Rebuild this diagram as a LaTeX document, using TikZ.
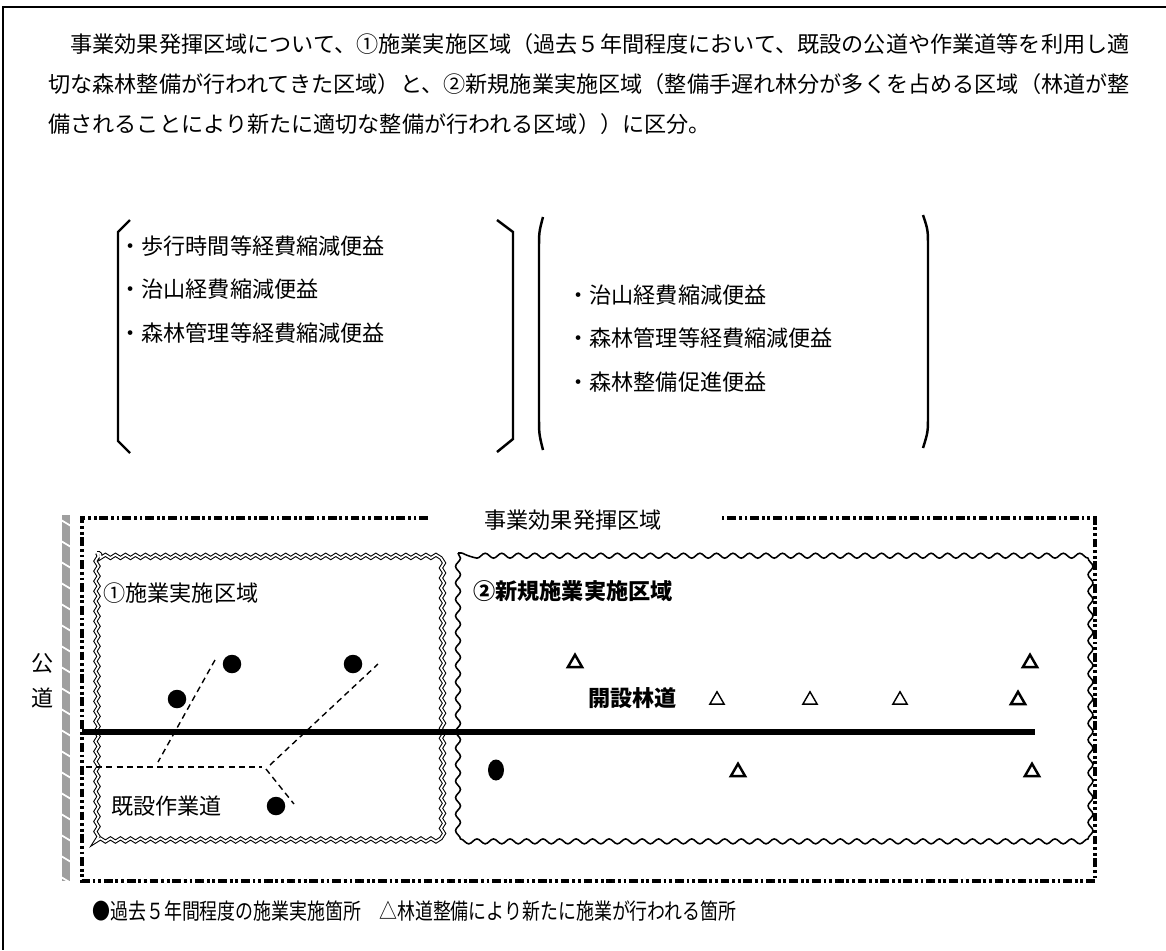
\documentclass[tikz,border=0pt]{standalone}
\usepackage{fontspec}
\newfontfamily\jpfont{Noto Sans CJK JP}
\usetikzlibrary{positioning, decorations.pathmorphing, shapes.geometric}

\begin{document}
\begin{tikzpicture}[
  x=0.02cm, y=-0.02cm,
  node distance=0.5cm,
  txt/.style={inner sep=0pt, anchor=west, text height=0.88em, text depth=0.12em,
              font=\jpfont\fontsize{12.6}{15}\selectfont},
  boldtxt/.style={txt, font=\jpfont\bfseries\fontsize{12.6}{15}\selectfont},
  brk/.style={line width=1.4pt},
  zone/.style={line width=2.1pt,
               dash pattern=on 5pt off 1.6pt on 1.6pt off 1.6pt on 1.6pt off 1.6pt},
  zoneA/.style={decorate, decoration={snake, amplitude=0.9pt, segment length=5.7pt},
                double, double distance=1pt, line width=0.6pt},
  zoneB/.style={decorate, decoration={snake, amplitude=1.4pt, segment length=9.4pt},
                line width=0.9pt},
  workroad/.style={dash pattern=on 3.4pt off 2.4pt, line width=0.8pt},
  spot/.style={circle, fill, inner sep=0pt, minimum size=0.37cm},
  tri/.style={regular polygon, regular polygon sides=3, draw, inner sep=0pt,
              minimum size=0.33cm, line width=1.4pt},
  trilight/.style={tri, line width=0.8pt}
]
  \useasboundingbox (0,0) rectangle (1166,950);
  \draw[line width=1.2pt] (1166,7) -| (3,950);

  \node[txt] (p1) at (48,46) {　事業効果発揮区域について、①施業実施区域（過去５年間程度において、既設の公道や作業道等を利用し適};
  \node[txt] (p2) at (48,86) {切な森林整備が行われてきた区域）と、②新規施業実施区域（整備手遅れ林分が多くを占める区域（林道が整};
  \node[txt] (p3) at (48,126) {備されることにより新たに適切な整備が行われる区域））に区分。};

  \draw[brk] (130,220) -- (118,232) -- (118,441) -- (130,453);
  \draw[brk] (497,220) -- (513,232) -- (513,439) -- (497,452);
  \draw[brk] (543,217) .. controls (539,232) .. (539,250) -- (539,415) .. controls (539,434) .. (543,450);
  \draw[brk] (923,215) .. controls (928,230) .. (928,248) -- (928,414) .. controls (928,432) .. (923,448);

  \node[txt] (a1) at (119,248) {・歩行時間等経費縮減便益};
  \node[txt, below=of a1.south west, anchor=north west] (a2) {・治山経費縮減便益};
  \node[txt, below=of a2.south west, anchor=north west] (a3) {・森林管理等経費縮減便益};
  \node[txt] (b1) at (567,297) {・治山経費縮減便益};
  \node[txt, below=of b1.south west, anchor=north west] (b2) {・森林管理等経費縮減便益};
  \node[txt, below=of b2.south west, anchor=north west] (b3) {・森林整備促進便益};

  \fill[gray!75] (62,515) rectangle (70,881);
  \foreach \y in {520,541,...,880}
    \draw[white, line width=1pt] (61,\y) -- (71,\y+6);
  \node[txt] (kou) at (31,665) {公};
  \node[txt] (dou) at (31,700) {道};

  \node[txt, anchor=center] (zlab) at (573,522) {事業効果発揮区域};
  \draw[zone] (428,518) -- (82,518) -- (82,881) -- (1095,881) -- (1095,518) -- (720,518);

  \draw[zoneA] (97,553) rectangle (443,837);
  \draw[zoneB] (458,553) rectangle (1080,838);
  \node[txt] (z1) at (103,595) {①施業実施区域};
  \node[boldtxt] (z2) at (473,593) {②新規施業実施区域};

  \coordinate (rs) at (82,732);
  \coordinate (re) at (1035,732);
  \draw[line width=3pt] (rs) -- (re);
  \node[boldtxt] (rin) at (588,700) {開設林道};

  \coordinate (wj) at (266,769);
  \draw[workroad] (215,660) -- (158,762);
  \draw[workroad] (86,767) -- (262,767);
  \draw[workroad] (270,765) -- (378,664);
  \draw[workroad] (wj) -- (294,804);
  \node[txt] (kisetsu) at (111,808) {既設作業道};

  \node[spot] (s1) at (232,664) {};
  \node[spot] (s2) at (353,664) {};
  \node[spot] (s3) at (177,699) {};
  \node[spot] (s4) at (276,806) {};
  \node[spot, ellipse, minimum width=0.32cm, minimum height=0.42cm] (s5) at (496,770) {};

  \node[tri] (t1) at (575,663) {};
  \node[tri] (t2) at (1030,663) {};
  \node[trilight] (t3) at (717,700) {};
  \node[trilight] (t4) at (810,700) {};
  \node[trilight] (t5) at (900,700) {};
  \node[tri] (t6) at (1018,700) {};
  \node[tri] (t7) at (738,772) {};
  \node[tri] (t8) at (1032,772) {};

  \node[txt] (leg) at (92,913) {\scalebox{0.81}[1]{●過去５年間程度の施業実施箇所　△林道整備により新たに施業が行われる箇所}};
\end{tikzpicture}
\end{document}
